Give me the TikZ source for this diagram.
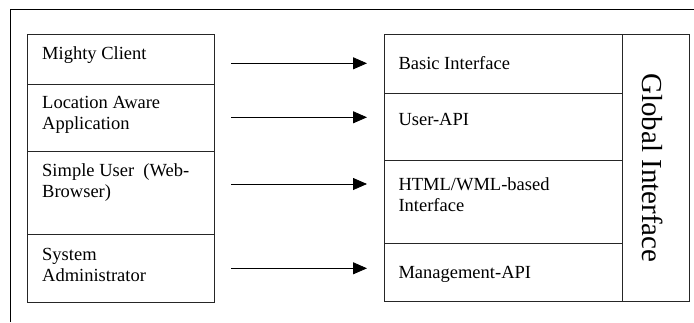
\documentclass[tikz,border=0pt]{standalone}
\usepackage{fontspec}
\setmainfont{Liberation Serif}
\usetikzlibrary{arrows.meta}

\tikzset{
  cell/.style={draw=black!85, line width=0.8pt, anchor=north west, inner sep=0pt},
  lbl/.style={anchor=base west, inner sep=0pt, align=left, font=\fontsize{18.5}{21}\selectfont},
  arr/.style={line width=0.8pt, -{Triangle[length=14pt,width=12pt]}},
}

\begin{document}
\begin{tikzpicture}[x=1pt, y=-1pt]

\useasboundingbox (0,0) rectangle (694,322);

% Cadre (coupé)
\draw[line width=0.7pt] (10,322) -- (10,9) -- (694,9);

% Clients (colonne de gauche)
\node[cell, minimum width=187pt, minimum height=50pt] (mc) at (27,34) {};
\node[cell, minimum width=187pt, minimum height=66.5pt] (la) at (27,84) {};
\node[cell, minimum width=187pt, minimum height=83.5pt] (su) at (27,150.5) {};
\node[cell, minimum width=187pt, minimum height=67.5pt] (sa) at (27,234) {};

% (base = ligne du bas pour les textes sur deux lignes)
\node[lbl] (mct) at ([xshift=15pt, yshift=-25.3pt]mc.north west) {Mighty Client};
\node[lbl] (lat) at ([xshift=15pt, yshift=-45.3pt]la.north west) {Location Aware\\Application};
\node[lbl] (sut) at ([xshift=15pt, yshift=-47.3pt]su.north west) {Simple User~~(Web-\\Browser)};
\node[lbl] (sat) at ([xshift=15pt, yshift=-47pt]sa.north west) {System\\Administrator};

% Interfaces (colonne de droite)
\node[cell, minimum width=238pt, minimum height=58.7pt] (bi) at (384,34) {};
\node[cell, minimum width=238pt, minimum height=67.3pt] (ua) at (384,92.7) {};
\node[cell, minimum width=238pt, minimum height=83.3pt] (hw) at (384,160) {};
\node[cell, minimum width=238pt, minimum height=57.4pt] (ma) at (384,243.3) {};

\node[lbl] (bit) at ([xshift=14.3pt, yshift=-35pt]bi.north west) {Basic Interface};
\node[lbl] (uat) at ([xshift=14.3pt, yshift=-32.3pt]ua.north west) {User-API};
\node[lbl] (hwt) at ([xshift=14.3pt, yshift=-51.7pt]hw.north west) {HTML/WML-based\\Interface};
\node[lbl] (mat) at ([xshift=14.3pt, yshift=-35pt]ma.north west) {Management-API};

% Global Interface
\node[cell, minimum width=67pt, minimum height=266.7pt] (gi) at (622,34) {};
\node[rotate=-90, inner sep=0pt, font=\fontsize{29}{30}\selectfont] (git) at ([xshift=-3pt]gi.center) {Global Interface};

% Flèches
\foreach \y [count=\i] in {63.3,117.3,184,268.3} {
  \coordinate (s\i) at (231,\y);
  \coordinate (e\i) at (367,\y);
  \draw[arr] (s\i) -- (e\i);
}

\end{tikzpicture}
\end{document}
